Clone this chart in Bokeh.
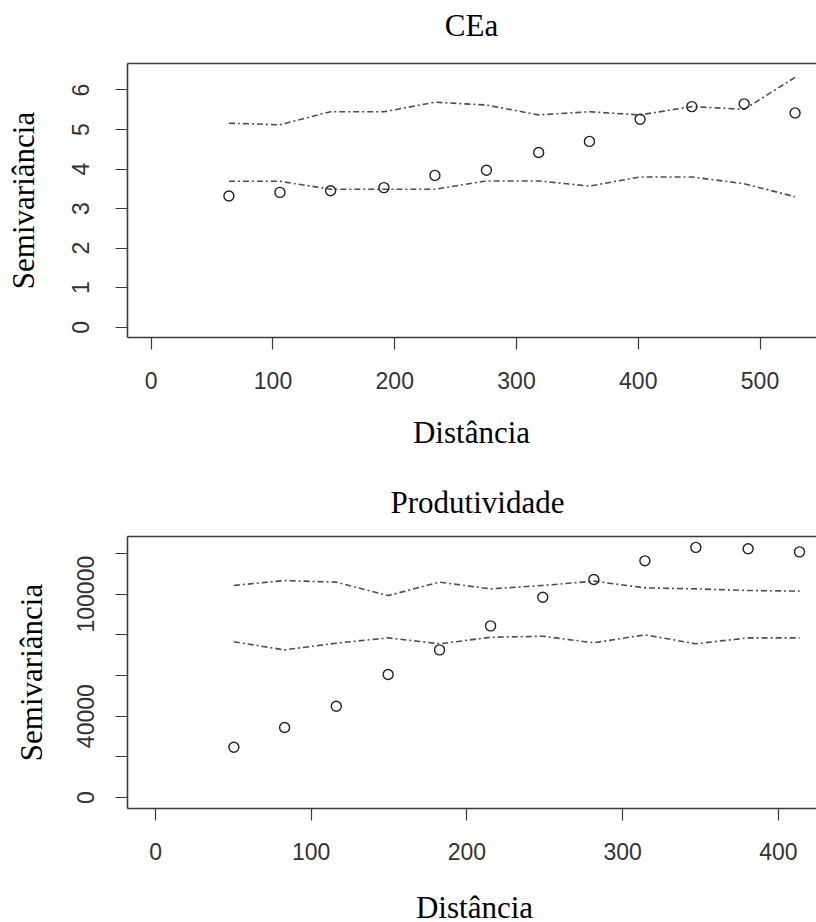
from bokeh.plotting import figure
from bokeh.layouts import column
from bokeh.models import LinearAxis, FixedTicker, Range1d
from bokeh.core.properties import value
from bokeh.embed import file_html
from bokeh.resources import INLINE

# ---- data: CEa ----
cea_dist = [63.8, 105.7, 147.3, 191.1, 233.0, 275.3, 318.2, 359.9, 401.5, 444.0, 487.0, 528.8]
cea_gamma = [3.32, 3.41, 3.45, 3.53, 3.84, 3.97, 4.42, 4.70, 5.26, 5.58, 5.65, 5.42]
cea_upper = [5.16, 5.12, 5.45, 5.45, 5.69, 5.62, 5.37, 5.45, 5.37, 5.58, 5.51, 6.32]
cea_lower = [3.69, 3.69, 3.49, 3.49, 3.49, 3.70, 3.70, 3.57, 3.80, 3.80, 3.63, 3.30]
cea_xticks = [0, 100, 200, 300, 400, 500]
cea_yticks = [0, 1, 2, 3, 4, 5, 6]

# ---- data: Produtividade ----
prod_dist = [50.3, 82.9, 116.1, 149.4, 182.4, 215.2, 248.7, 281.5, 314.3, 347.0, 380.6, 413.6]
prod_gamma = [24700, 34400, 44900, 60500, 72600, 84400, 98500, 107200, 116400, 123000, 122300, 120800]
prod_upper = [104300, 106700, 105900, 99300, 105900, 102600, 104300, 106400, 103100, 102600, 101800, 101500]
prod_lower = [76600, 72600, 75900, 78500, 75600, 78800, 79300, 76100, 80000, 75600, 78500, 78500]
prod_xticks = [0, 100, 200, 300, 400]
prod_yticks = [0, 20000, 40000, 60000, 80000, 100000, 120000]
prod_ylabels = {0: "0", 20000: "", 40000: "40000", 60000: "", 80000: "",
                100000: "100000", 120000: ""}

titles = ["CEa", "Produtividade"]
xlabel = "Distância"
ylabel = "Semivariância"

AXIS_COLOR = "#3a3a3a"
TICK_FONT = "Liberation Sans"
SERIF = "Liberation Serif"
W = 816
LEFT = 127  # common left border (column aligns the frames)


def text_row(txt, height, cx, baseline_from_top):
    """A thin strip that holds one line of serif text (title / axis title)."""
    t = figure(width=W, height=height, x_range=Range1d(LEFT, W), y_range=Range1d(0, height),
               output_backend="svg", toolbar_location=None, title=None,
               min_border=0, min_border_left=LEFT, min_border_right=0,
               min_border_top=0, min_border_bottom=0,
               x_axis_location=None, y_axis_location=None)
    t.outline_line_color = None
    t.grid.visible = False
    t.text(x=[cx], y=[height - baseline_from_top], text=[txt],
           text_font=value(SERIF), text_font_size="31px", text_color="black",
           text_align="center", text_baseline="alphabetic")
    return t


def make_panel(dist, gamma, upper, lower, xr, yr, xticks, yticks,
               height, top, bottom, xl_so, yl_so, ya_so, ylabel_over=None):
    p = figure(width=W, height=height, x_range=Range1d(*xr), y_range=Range1d(*yr),
               output_backend="svg", toolbar_location=None, title=None,
               min_border_left=LEFT, min_border_top=top, min_border_bottom=bottom,
               min_border_right=0, x_axis_location=None, y_axis_location=None)
    p.outline_line_color = None
    p.grid.visible = False

    xa = LinearAxis(ticker=FixedTicker(ticks=xticks))
    ya = LinearAxis(ticker=FixedTicker(ticks=yticks))
    top_ax = LinearAxis(ticker=FixedTicker(ticks=[]))
    for ax in (xa, ya, top_ax):
        ax.axis_line_color = AXIS_COLOR
        ax.axis_line_width = 1.6
        ax.major_tick_line_color = AXIS_COLOR
        ax.major_tick_line_width = 1.2
        ax.major_tick_out = 12
        ax.major_tick_in = 0
        ax.minor_tick_out = 0
        ax.minor_tick_in = 0
        ax.major_label_text_font = TICK_FONT
        ax.major_label_text_font_size = "23px"
        ax.major_label_text_color = "#333333"
        ax.axis_label_text_font = SERIF
        ax.axis_label_text_font_size = "31px"
        ax.axis_label_text_font_style = "normal"
        ax.axis_label_text_color = "black"
    top_ax.major_label_text_font_size = "0px"
    top_ax.major_label_standoff = 0
    top_ax.major_tick_out = 0

    xa.major_label_standoff = xl_so
    ya.axis_label = ylabel
    ya.major_label_orientation = "vertical"
    ya.major_label_standoff = yl_so
    ya.axis_label_standoff = ya_so
    if ylabel_over:
        ya.major_label_overrides = ylabel_over

    p.add_layout(xa, "below")
    p.add_layout(ya, "left")
    p.add_layout(top_ax, "above")

    env = dict(line_color="#4d4d4d", line_width=1.6, line_dash="6 3 2 3")
    p.line(dist, upper, **env)
    p.line(dist, lower, **env)
    p.scatter(dist, gamma, marker="circle", size=10, fill_color=None,
              line_color="#222222", line_width=1.4)
    return p


# rows: 50 + 355 + 50 | 65 + 355 + 47  = 922
t1 = text_row(titles[0], 50, 471, 25)
p1 = make_panel(cea_dist, cea_gamma, cea_upper, cea_lower,
                (-19.5, 546.4), (-0.26, 6.67), cea_xticks, cea_yticks,
                height=355, top=13, bottom=68,
                xl_so=22, yl_so=26, ya_so=29)
d1 = text_row(xlabel, 50, 471, 27)
t2 = text_row(titles[1], 65, 477, 47)
p2 = make_panel(prod_dist, prod_gamma, prod_upper, prod_lower,
                (-18.0, 424.5), (-5410, 128360), prod_xticks, prod_yticks,
                height=355, top=16, bottom=67,
                xl_so=22, yl_so=21, ya_so=26, ylabel_over=prod_ylabels)
d2 = text_row(xlabel, 47, 474, 32)

layout = column(t1, p1, d1, t2, p2, d2, spacing=0)
open("out.html", "w").write(file_html(layout, INLINE))
